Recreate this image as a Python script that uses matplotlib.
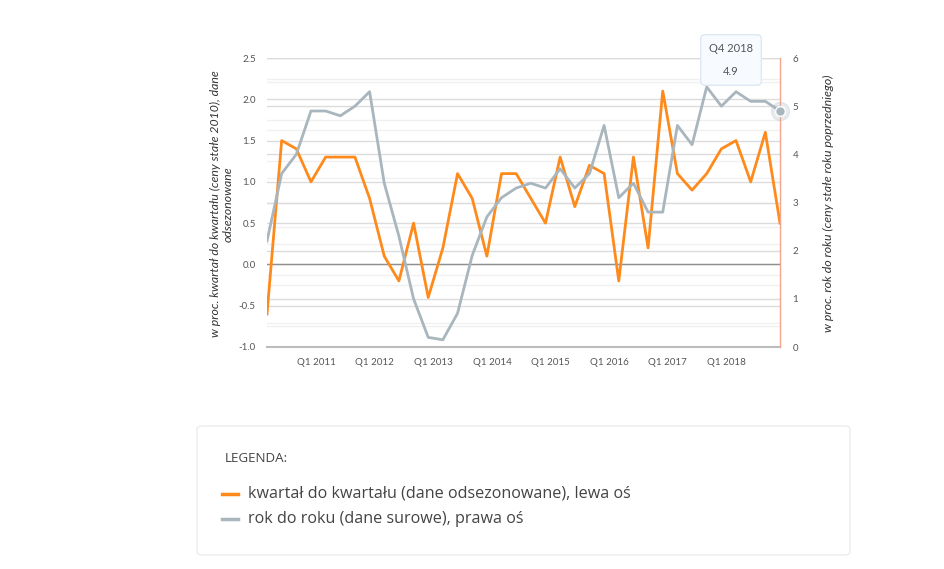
import matplotlib.pyplot as plt
from matplotlib.patches import FancyBboxPatch
from matplotlib.lines import Line2D
from matplotlib.transforms import blended_transform_factory
import numpy as np

# dane kwartalne Q1 2010 - Q4 2018
kwartaly = [f'Q{q} {r}' for r in range(2010, 2019) for q in range(1, 5)]
kwartal_do_kwartalu = [-0.6, 1.5, 1.4, 1.0, 1.3, 1.3, 1.3, 0.8, 0.1, -0.2, 0.5, -0.4,
                       0.2, 1.1, 0.8, 0.1, 1.1, 1.1, 0.8, 0.5, 1.3, 0.7, 1.2, 1.1,
                       -0.2, 1.3, 0.2, 2.1, 1.1, 0.9, 1.1, 1.4, 1.5, 1.0, 1.6, 0.5]
rok_do_roku = [2.2, 3.6, 4.0, 4.9, 4.9, 4.8, 5.0, 5.3, 3.4, 2.3, 1.0, 0.2,
               0.15, 0.7, 1.9, 2.7, 3.1, 3.3, 3.4, 3.3, 3.7, 3.3, 3.6, 4.6,
               3.1, 3.4, 2.8, 2.8, 4.6, 4.2, 5.4, 5.0, 5.3, 5.1, 5.1, 4.9]
etykiety_x = ['Q1 2011', 'Q1 2012', 'Q1 2013', 'Q1 2014', 'Q1 2015', 'Q1 2016', 'Q1 2017', 'Q1 2018']

pomaranczowy = '#ff8a1c'
szary = '#a9b6bd'
tekst = '#555555'

x = np.arange(len(kwartaly))

fig = plt.figure(figsize=(9.45, 5.69), dpi=100)
ax = fig.add_axes([267 / 945, 1 - 347 / 569, 513 / 945, 289 / 569])
ax2 = ax.twinx()

ax.set_xlim(0, len(kwartaly) - 1)
ax.set_ylim(-1.0, 2.5)
ax2.set_ylim(0, 6)

# siatka - lewa os
for v in np.arange(-0.75, 2.5, 0.5):
    ax.axhline(v, color='#f0f0f0', lw=1, zorder=0)
for v in np.arange(-0.5, 2.51, 0.5):
    ax.axhline(v, color='#dcdcdc', lw=1, zorder=0.5)
# siatka - prawa os (rysowana na dolnej osi)
tr = blended_transform_factory(ax.transAxes, ax2.transData)
for v in np.arange(0.5, 6, 1.0):
    ax.plot([0, 1], [v, v], transform=tr, color='#f0f0f0', lw=1, zorder=0)
for v in range(1, 7):
    ax.plot([0, 1], [v, v], transform=tr, color='#dcdcdc', lw=1, zorder=0.5)
ax.axhline(0, color='#8f8f8f', lw=1, zorder=1)

ax.plot(x, kwartal_do_kwartalu, color=pomaranczowy, lw=2, zorder=3)
ax2.plot(x, rok_do_roku, color=szary, lw=2, zorder=3)
ax2.plot(x[-1], rok_do_roku[-1], 'o', ms=13, color=szary, alpha=0.25, zorder=4, clip_on=False)
ax2.plot(x[-1], rok_do_roku[-1], 'o', ms=7, color=szary, mec='white', mew=1, zorder=5, clip_on=False)

for s in ['top', 'left']:
    ax.spines[s].set_visible(False)
    ax2.spines[s].set_visible(False)
ax.spines['right'].set_visible(False)
ax.spines['bottom'].set_color('#bdbdbd')
ax.spines['bottom'].set_linewidth(1.5)
ax2.spines['bottom'].set_visible(False)
ax2.spines['right'].set_color('#f4a58b')
ax2.spines['right'].set_linewidth(1)

ax.set_xticks([4 * (i + 1) - 0.65 for i in range(len(etykiety_x))])
ax.set_xticklabels(etykiety_x)
ax.set_yticks(np.arange(-1.0, 2.51, 0.5))
ax.set_yticklabels([f'{v:.1f}' for v in np.arange(-1.0, 2.51, 0.5)])
ax2.set_yticks(range(0, 7))

ax.tick_params(axis='x', length=0, pad=8, labelsize=7, labelcolor=tekst)
ax.tick_params(axis='y', length=0, pad=8, labelsize=7, labelcolor=tekst)
ax2.tick_params(axis='y', length=0, pad=9, labelsize=7, labelcolor=tekst)
for lab in ax.get_xticklabels() + ax.get_yticklabels() + ax2.get_yticklabels():
    lab.set_family('Lato')

fig.text(222 / 945, 1 - 204 / 569,
         'w proc. kwartał do kwartału (ceny stałe 2010), dane\nodsezonowane',
         rotation=90, ha='center', va='center', fontsize=8.8, style='italic',
         color='#333333', family='Lato', linespacing=1.2)
fig.text(828 / 945, 1 - 203 / 569,
         'w proc. rok do roku (ceny stałe roku poprzedniego)',
         rotation=90, ha='center', va='center', fontsize=8.9, style='italic',
         color='#333333', family='Lato')

# dymek
ax2.annotate(f'{kwartaly[-1]}\n\n{rok_do_roku[-1]}', xy=(x[-1], rok_do_roku[-1]),
             xytext=(-49, 51), textcoords='offset pixels', ha='center', va='center',
             fontsize=8, color='#555555', family='Lato', linespacing=1.05,
             bbox=dict(boxstyle='round,pad=0.75,rounding_size=0.4', fc='#f7fbff',
                       ec='#dde8f2', lw=1), zorder=6, annotation_clip=False)

# legenda
fig.add_artist(FancyBboxPatch((197 / 945, 1 - 555 / 569), 653 / 945, 129 / 569,
                              boxstyle='round,pad=0,rounding_size=0.006',
                              transform=fig.transFigure, fc='white', ec='#ececec', lw=1))
fig.text(225 / 945, 1 - 458 / 569, 'LEGENDA:', ha='left', va='center',
         fontsize=9.6, color='#444444', family='Open Sans')
fig.add_artist(Line2D([222 / 945, 238 / 945], [1 - 494 / 569] * 2, color=pomaranczowy, lw=2.5))
fig.add_artist(Line2D([222 / 945, 238 / 945], [1 - 519 / 569] * 2, color=szary, lw=2.5))
fig.text(248 / 945, 1 - 494 / 569, 'kwartał do kwartału (dane odsezonowane), lewa oś',
         ha='left', va='center', fontsize=11.6, color='#444444', family='Open Sans')
fig.text(248 / 945, 1 - 519 / 569, 'rok do roku (dane surowe), prawa oś',
         ha='left', va='center', fontsize=11.6, color='#444444', family='Open Sans')

fig.savefig('out.png', dpi=100, facecolor='white')
